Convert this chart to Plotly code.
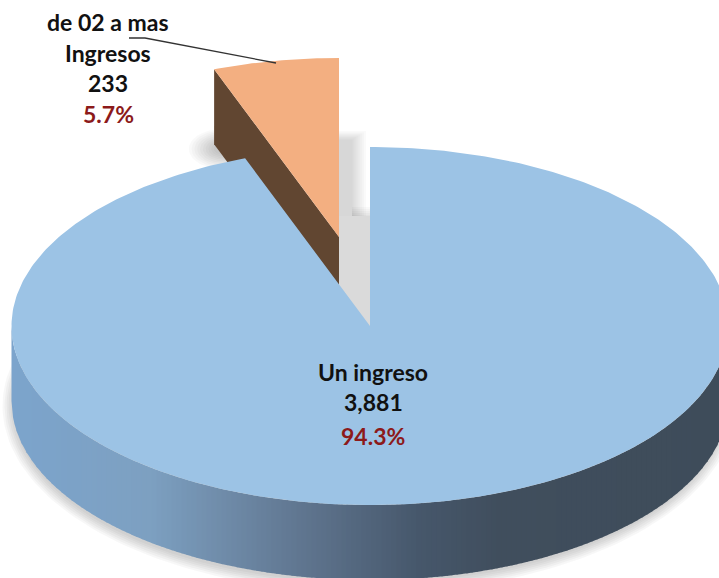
import numpy as np
import plotly.graph_objects as go

# ---- data ----
categories = ["Un ingreso", ["de 02 a mas", "Ingresos"]]
values = [3881, 233]

# ---- geometry of the tilted disc (pixels) ----
CX, CY, RX, RY, DEPTH = 370.0, 326.0, 358.5, 179.0, 75.0
EXPLODE_X, EXPLODE_Y = -31.0, -89.0
W, H = 719, 578

TOP_MAIN = "#9CC3E5"
TOP_SLICE = "#F3AF81"
SIDE_SLICE = "#614631"
SIDE_STOPS = [(12, (124, 164, 204)), (150, (125, 160, 193)), (300, (96, 118, 144)),
              (420, (70, 87, 107)), (500, (64, 78, 93)), (730, (62, 76, 90))]
TEXT_DARK = "#111111"
TEXT_RED = "#8C1A1A"

total = sum(values)
slice_deg = 360.0 * values[1] / total


def ell(theta_deg, cx=CX, cy=CY, rx=RX, ry=RY):
    t = np.radians(theta_deg)
    return cx + rx * np.sin(t), cy - ry * np.cos(t)


def poly(x, y, color):
    return go.Scatter(x=list(x), y=list(y), mode="lines", fill="toself", fillcolor=color,
                      line=dict(width=0, color=color), hoverinfo="skip", showlegend=False)


def side_color(x):
    xs = [s[0] for s in SIDE_STOPS]
    c = [np.interp(x, xs, [s[1][i] for s in SIDE_STOPS]) for i in range(3)]
    return "rgb(%d,%d,%d)" % tuple(int(round(v)) for v in c)


traces = []

# soft shadow under the disc
for d in [11, 9, 7, 5, 3, 1]:
    th = np.linspace(0, 360, 240)
    x, y = ell(th, CX - 1, CY + DEPTH + 5, RX + d - 3, RY + d - 3)
    traces.append(poly(x, y, "rgba(0,0,0,0.03)"))

# soft shadow behind the pulled-out slice
for k in range(10):
    th = np.linspace(0, 360, 60)
    x, y = ell(th, 224, 149, 10 + k * 2.8, 6 + k * 1.6)
    traces.append(poly(x, y, "rgba(0,0,0,0.024)"))

# shaded wall in the gap of the disc
for k in range(8):
    right = 366 - k * 1.9
    top = 131 + k * 1.2
    traces.append(poly([339, right, right, 339], [top, top, 216, 216], "rgba(0,0,0,0.018)"))
for k in range(5):
    top = 207 + k * 2.0
    traces.append(poly([352, 371, 371, 352], [top, top, 216, 216], "rgba(0,0,0,0.022)"))
traces.append(poly([339, 371, 371, 339], [216, 216, 326, 326], "#DADADA"))

# pulled-out slice: cut face, then top face
ax, ay = CX + EXPLODE_X, CY + EXPLODE_Y
ex, ey = ell(-slice_deg, ax, ay)
traces.append(poly([ex, ax, ax, ex], [ey, ay, ay + DEPTH, ey + DEPTH], SIDE_SLICE))
th = np.linspace(-slice_deg, 0, 30)
x, y = ell(th, ax, ay)
traces.append(poly(np.r_[ax, x], np.r_[ay, y], TOP_SLICE))

# rim of the main slice, drawn as shaded strips
step = 5
for x0 in np.arange(CX - RX, CX + RX, step):
    xa = np.linspace(x0, min(x0 + step + 1, CX + RX), 5)
    yb = CY + RY * np.sqrt(np.clip(1 - ((xa - CX) / RX) ** 2, 0, 1))
    traces.append(poly(np.r_[xa, xa[::-1]], np.r_[yb, yb[::-1] + DEPTH], side_color(x0 + step / 2)))

# top face of the main slice
th = np.linspace(0, 360 - slice_deg, 400)
x, y = ell(th)
traces.append(poly(np.r_[CX, x], np.r_[CY, y], TOP_MAIN))

# leader line of the small slice
traces.append(go.Scatter(x=[129, 145, 276], y=[38, 38, 63], mode="lines",
                         line=dict(color="#333333", width=1.3), hoverinfo="skip", showlegend=False))

fig = go.Figure(traces)


def label(x, y, text, color):
    fig.add_annotation(x=x, y=y, xref="x", yref="y", text=f"<b>{text}</b>", showarrow=False,
                       font=dict(family="Lato", size=23, color=color), xanchor="center", yanchor="middle")


small_lines = categories[1] + [f"{values[1]:,}"]
for txt, yy in zip(small_lines, [22, 53, 83]):
    label(108, yy, txt, TEXT_DARK)
label(108, 114, f"{100 * values[1] / total:.1f}%", TEXT_RED)

label(373, 372, categories[0], TEXT_DARK)
label(373, 402, f"{values[0]:,}", TEXT_DARK)
label(373, 436, f"{100 * values[0] / total:.1f}%", TEXT_RED)

fig.update_layout(width=W, height=H, margin=dict(l=0, r=0, t=0, b=0),
                  paper_bgcolor="white", plot_bgcolor="white", showlegend=False,
                  xaxis=dict(range=[0, W], visible=False, fixedrange=True),
                  yaxis=dict(range=[H, 0], visible=False, fixedrange=True))
fig.write_html("out.html", config={"displayModeBar": False},
               post_script="document.body.style.margin='0';document.body.style.overflow='hidden';")
